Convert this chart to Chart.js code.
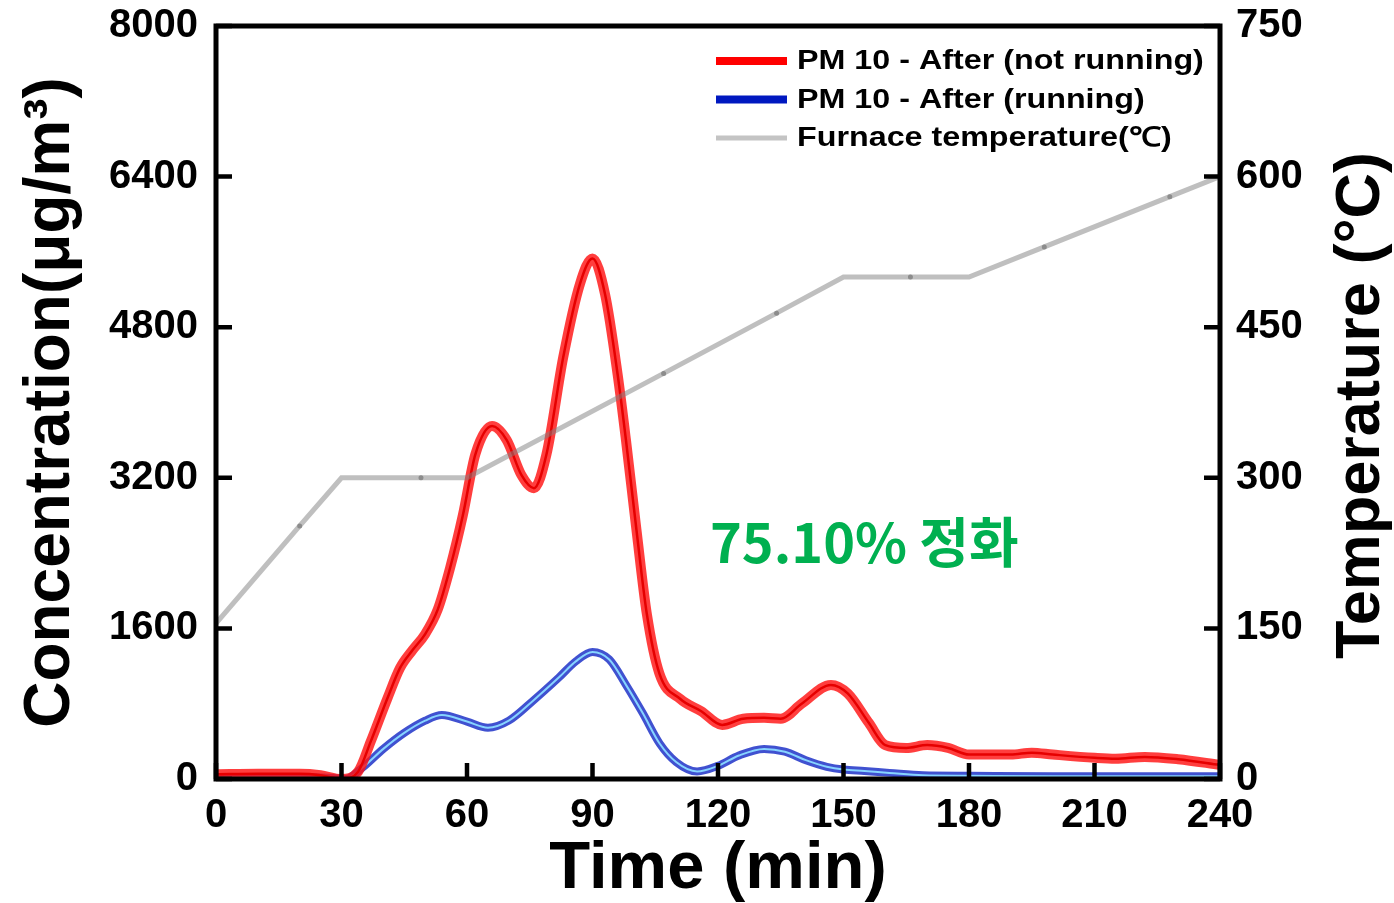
<!DOCTYPE html>
<html>
<head>
<meta charset="utf-8">
<script src="https://cdn.jsdelivr.net/npm/chart.js@4.4.1/dist/chart.umd.min.js"></script>
<style>
	html, body { margin: 0; padding: 0; background: #fff; }
	#wrap { width: 1394px; height: 903px; }
</style>
</head>
<body>
<div id="wrap"><canvas id="chart1" width="1394" height="903"></canvas></div>
<script>
"use strict";

// axis ticks
var timeTicks = [0, 30, 60, 90, 120, 150, 180, 210, 240];
var concTicks = [0, 1600, 3200, 4800, 6400, 8000];
var tempTicks = [0, 150, 300, 450, 600, 750];

// PM 10 - After (not running)
var redTime = [0, 10, 20, 25, 30, 34, 37, 41, 44, 47, 50, 53, 56, 59, 62, 66, 69.5, 73, 76, 79, 83, 87, 90, 93, 96, 98, 100.5, 103, 106, 111, 116, 121, 126, 131, 135, 140, 147, 151, 156, 160, 165, 170, 175, 180, 190, 195, 200, 210, 215, 222, 230, 240];
var redConc = [50, 55, 55, 40, 0, 80, 400, 860, 1180, 1370, 1540, 1800, 2250, 2800, 3450, 3750, 3600, 3230, 3090, 3450, 4480, 5260, 5530, 5150, 4300, 3600, 2650, 1750, 1120, 850, 720, 575, 640, 650, 640, 800, 1000, 910, 600, 360, 330, 360, 330, 260, 260, 280, 260, 225, 215, 235, 210, 150];

// PM 10 - After (running)
var blueTime = [0, 10, 20, 28, 31, 35, 40, 45, 50, 54, 60, 65, 70, 76, 82, 86, 90, 94, 98, 102, 106, 110, 115, 120, 125, 131, 136, 141, 146, 150, 155, 161, 169, 180, 200, 220, 240];
var blueConc = [20, 20, 20, 10, 0, 120, 320, 490, 620, 680, 610, 545, 620, 840, 1080, 1250, 1350, 1270, 1000, 700, 380, 180, 80, 140, 250, 320, 290, 200, 130, 100, 85, 65, 40, 35, 30, 30, 30];

// Furnace temperature
var tempTime = [0, 20, 30, 49, 60, 107, 134, 150, 166, 180, 198, 228, 240];
var tempValue = [155, 252, 300, 300, 300, 404, 464, 500, 500, 500, 530, 580, 600];
var tempMarker = [0, 1, 0, 1, 0, 1, 1, 0, 1, 0, 1, 1, 0];

function pts(xs, ys) {
	return xs.map(function (x, i) { return { x: x, y: ys[i] }; });
}

var boldFont = "'Liberation Sans', Arial, sans-serif";

// frame with inward ticks
var framePlugin = {
	id: "frame",
	afterDatasetsDraw: function (chart) {
		var ctx = chart.ctx, a = chart.chartArea, s = chart.scales;
		ctx.save();
		ctx.strokeStyle = "#000";
		ctx.lineWidth = 5;
		ctx.strokeRect(a.left, a.top, a.right - a.left, a.bottom - a.top);
		ctx.lineWidth = 4.5;
		ctx.beginPath();
		timeTicks.forEach(function (v) {
			var x = s.x.getPixelForValue(v);
			ctx.moveTo(x, a.bottom); ctx.lineTo(x, a.bottom - 16);
		});
		concTicks.forEach(function (v) {
			var y = s.y.getPixelForValue(v);
			ctx.moveTo(a.left, y); ctx.lineTo(a.left + 16, y);
		});
		tempTicks.forEach(function (v) {
			var y = s.y2.getPixelForValue(v);
			ctx.moveTo(a.right, y); ctx.lineTo(a.right - 16, y);
		});
		ctx.stroke();
		ctx.restore();
	}
};

// legend, right title and annotation
var extrasPlugin = {
	id: "extras",
	afterDraw: function (chart) {
		var ctx = chart.ctx, a = chart.chartArea;
		ctx.save();
		var items = chart.data.datasets.filter(function (d) { return d.legendRow !== undefined; });
		items.sort(function (p, q) { return p.legendRow - q.legendRow; });
		items.forEach(function (d, i) {
			var y = 61 + i * 38.5;
			ctx.strokeStyle = d.legendColor;
			ctx.lineWidth = d.legendWidth;
			ctx.beginPath();
			ctx.moveTo(716, y); ctx.lineTo(787, y);
			ctx.stroke();
			ctx.save();
			ctx.translate(797, y);
			ctx.scale(1.195, 1);
			ctx.fillStyle = "#000";
			ctx.font = "bold 27px " + boldFont;
			ctx.textBaseline = "middle";
			ctx.fillText(d.label, 0, 1);
			ctx.restore();
		});

		// right axis title
		ctx.save();
		ctx.translate(1362, (a.top + a.bottom) / 2 + 3);
		ctx.rotate(-Math.PI / 2);
		ctx.fillStyle = "#000";
		ctx.font = "bold 63px " + boldFont;
		ctx.textAlign = "center";
		ctx.textBaseline = "middle";
		ctx.fillText("Temperature (°C)", 0, 0);
		ctx.restore();

		// annotation
		ctx.fillStyle = "#00b050";
		ctx.font = "bold 54px 'Noto Sans CJK KR', 'Noto Sans', sans-serif";
		ctx.textAlign = "left";
		ctx.textBaseline = "alphabetic";
		ctx.fillText("75.10% 정화", 710, 563);
		ctx.restore();
	}
};

var tickFont = { family: boldFont, size: 40, weight: "bold" };
function plain(v) { return String(v); }

new Chart(document.getElementById("chart1"), {
	type: "line",
	data: {
		datasets: [
			{
				label: "Furnace temperature(\u2103)",
				legendRow: 2, legendColor: "#c4c4c4", legendWidth: 5,
				data: pts(tempTime, tempValue),
				yAxisID: "y2",
				borderColor: "rgba(128,128,128,0.5)",
				borderWidth: 5,
				tension: 0,
				pointRadius: function (c) { return tempMarker[c.dataIndex] ? 2.5 : 0; },
				pointBackgroundColor: "#8c8c8c",
				pointBorderWidth: 0
			},
			{
				label: "red-core",
				data: pts(redTime, redConc),
				yAxisID: "y",
				borderColor: "#e60000",
				borderWidth: 2.5,
				cubicInterpolationMode: "monotone",
				pointRadius: 0
			},
			{
				label: "PM 10 - After (not running)",
				legendRow: 0, legendColor: "#ff0000", legendWidth: 8,
				data: pts(redTime, redConc),
				yAxisID: "y",
				borderColor: "rgba(255,20,20,0.82)",
				borderWidth: 10,
				cubicInterpolationMode: "monotone",
				pointRadius: 0
			},
			{
				label: "blue-core",
				data: pts(blueTime, blueConc),
				yAxisID: "y",
				borderColor: "#86d4ff",
				borderWidth: 2,
				cubicInterpolationMode: "monotone",
				pointRadius: 0
			},
			{
				label: "PM 10 - After (running)",
				legendRow: 1, legendColor: "#0018c0", legendWidth: 8,
				data: pts(blueTime, blueConc),
				yAxisID: "y",
				borderColor: "rgba(30,50,200,0.85)",
				borderWidth: 8,
				cubicInterpolationMode: "monotone",
				pointRadius: 0
			}
		]
	},
	options: {
		responsive: false,
		devicePixelRatio: 1,
		animation: false,
		layout: { padding: { top: 26, left: 0, right: 0, bottom: 0 } },
		plugins: { legend: { display: false }, tooltip: { enabled: false } },
		scales: {
			x: {
				type: "linear",
				min: 0, max: 240,
				afterBuildTicks: function (s) { s.ticks = timeTicks.map(function (v) { return { value: v }; }); },
				afterFit: function (s) { s.height = 903 - 779; s.paddingLeft = 0; s.paddingRight = 0; },
				grid: { display: false, drawTicks: false },
				border: { display: false },
				ticks: { font: tickFont, color: "#000", padding: 13, maxRotation: 0, callback: plain },
				title: { display: true, text: "Time (min)", color: "#000", font: { family: boldFont, size: 67, weight: "bold", lineHeight: 1 }, padding: { top: 0, bottom: 0 } }
			},
			y: {
				position: "left",
				min: 0, max: 8000,
				afterBuildTicks: function (s) { s.ticks = concTicks.map(function (v) { return { value: v }; }); },
				afterFit: function (s) { s.width = 216; s.paddingTop = 0; s.paddingBottom = 0; },
				grid: { display: false, drawTicks: false },
				border: { display: false },
				ticks: { font: tickFont, color: "#000", padding: 18, callback: plain },
				title: { display: true, text: "Concentration(\u03bcg/m\u00b3)", color: "#000", font: { family: boldFont, size: 64, weight: "bold", lineHeight: 1 }, padding: { top: 19, bottom: 0 } }
			},
			y2: {
				position: "right",
				min: 0, max: 750,
				afterBuildTicks: function (s) { s.ticks = tempTicks.map(function (v) { return { value: v }; }); },
				afterFit: function (s) { s.width = 1394 - 1220; s.paddingTop = 0; s.paddingBottom = 0; },
				grid: { display: false, drawTicks: false },
				border: { display: false },
				ticks: { font: tickFont, color: "#000", padding: 16, callback: plain }
			}
		}
	},
	plugins: [framePlugin, extrasPlugin]
});
</script>
</body>
</html>
